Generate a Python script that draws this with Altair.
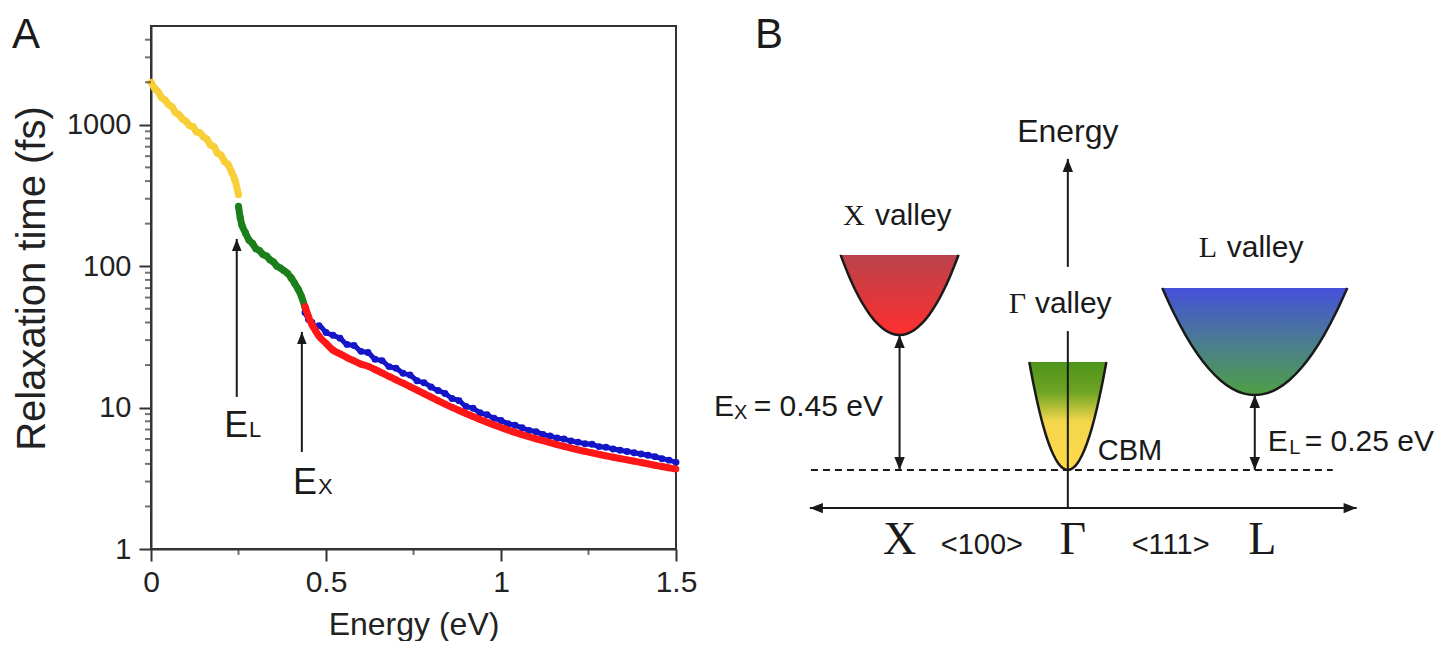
import altair as alt
import pandas as pd

FONT = "Liberation Sans"
SERIF = "Liberation Serif"
INK = "#1a1a1a"

# ---------------- Panel A data ----------------
yellow_E = [0.00, 0.01, 0.02, 0.03, 0.04, 0.05, 0.06, 0.07, 0.08, 0.09, 0.10, 0.11, 0.12,
            0.13, 0.14, 0.15, 0.16, 0.17, 0.18, 0.19, 0.20, 0.21, 0.22, 0.23, 0.24, 0.25]
yellow_tau = [2000, 1820, 1720, 1560, 1500, 1390, 1340, 1220, 1180, 1100, 1060, 990, 970,
              890, 880, 820, 790, 720, 700, 630, 610, 550, 525, 465, 405, 320]

green_E = [0.25, 0.255, 0.26, 0.27, 0.28, 0.29, 0.30, 0.31, 0.32, 0.33, 0.34, 0.35, 0.36,
           0.37, 0.38, 0.39, 0.40, 0.41, 0.42, 0.43, 0.44]
green_tau = [265, 220, 195, 172, 153, 145, 133, 129, 121, 118, 111, 107, 100,
             97, 93, 89, 83, 76, 69, 61, 51]

hot_E = [0.44, 0.45, 0.46, 0.47, 0.48, 0.50, 0.52, 0.54, 0.56, 0.58, 0.60, 0.62, 0.64,
         0.66, 0.68, 0.70, 0.72, 0.74, 0.76, 0.78, 0.80, 0.82, 0.84, 0.86, 0.88, 0.90,
         0.92, 0.94, 0.96, 0.98, 1.00, 1.02, 1.04, 1.06, 1.08, 1.10, 1.12, 1.14, 1.16,
         1.18, 1.20, 1.22, 1.24, 1.26, 1.28, 1.30, 1.32, 1.34, 1.36, 1.38, 1.40, 1.42,
         1.44, 1.46, 1.48, 1.50]
red_tau = [52, 44, 38.5, 35, 32, 28.5, 25.5, 24, 22.6, 21.4, 20.3, 19.6, 18.6,
           17.6, 16.6, 15.7, 14.9, 14.1, 13.3, 12.55, 11.85, 11.2, 10.6, 10.05, 9.55, 9.08,
           8.65, 8.25, 7.88, 7.54, 7.23, 6.94, 6.68, 6.44, 6.22, 6.02, 5.83, 5.65, 5.48,
           5.32, 5.17, 5.03, 4.9, 4.78, 4.67, 4.56, 4.46, 4.36, 4.27, 4.18, 4.09, 4.0,
           3.91, 3.83, 3.75, 3.68]
blue_tau = [47, 42, 40, 37, 38, 34, 32.5, 31, 28, 27.5, 25, 24.5, 22,
            21.5, 19.5, 19, 17.5, 17, 15.5, 15, 14, 13.2, 12.6, 11.6, 11.2, 10.2,
            9.9, 9.2, 8.9, 8.4, 8.1, 7.7, 7.5, 7.2, 6.9, 6.75, 6.45, 6.3, 6.1,
            6.0, 5.8, 5.7, 5.55, 5.5, 5.3, 5.25, 5.1, 5.0, 4.9, 4.8, 4.7, 4.6,
            4.5, 4.35, 4.25, 4.1]

x_major = [0, 0.5, 1, 1.5]
x_minor = [0.25, 0.75, 1.25]
y_major = [1, 10, 100, 1000]
y_minor = [2, 3, 4, 5, 6, 7, 8, 9, 20, 30, 40, 50, 60, 70, 80, 90,
           200, 300, 400, 500, 600, 700, 800, 900, 2000, 3000, 4000]

arrow_E = [0.245, 0.431]
arrow_tail = [11.9, 4.85]
arrow_tip = [156, 34.3]

labelA_text = ["E", "L", "E", "X"]
labelA_E = [0.209, 0.28, 0.406, 0.477]
labelA_tau = [6.2, 6.2, 2.45, 2.45]
labelA_size = [36, 22, 36, 22]

# ---------------- Panel B data (schematic) ----------------
valley_name = ["X", "Γ", "L"]
valley_k = [-0.9, 0.0, 1.0]
valley_min = [0.45, 0.0, 0.25]
valley_top = [0.717, 0.36, 0.607]
valley_halfwidth = [0.3155, 0.206, 0.495]
profile_u = [-1.0, -0.875, -0.75, -0.625, -0.5, -0.375, -0.25, -0.125, 0.0,
             0.125, 0.25, 0.375, 0.5, 0.625, 0.75, 0.875, 1.0]
profile_depth = [1.0, 0.7656, 0.5625, 0.3906, 0.25, 0.1406, 0.0625, 0.0156, 0.0,
                 0.0156, 0.0625, 0.1406, 0.25, 0.3906, 0.5625, 0.7656, 1.0]

vrule_k = [0.0, 0.0, -0.9, 1.0]
vrule_E = [0.677, -0.127, 0.0, 0.0]
vrule_E2 = [1.037, 0.463, 0.45, 0.25]
axis_E = [-0.127]
axis_k = [-1.38]
axis_k2 = [1.545]
dash_E = [0.0]
dash_k = [-1.374]
dash_k2 = [1.417]
head_up_k = [0.0, -0.9, 1.0]
head_up_E = [1.037, 0.45, 0.25]
head_down_k = [-0.9, 1.0]
head_down_E = [0.0, 0.0]
head_left_k = [-1.38]
head_right_k = [1.545]
head_h_E = [-0.127]

sans_left_text = ["valley", "valley", "valley", "E", "X", "= 0.45 eV", "E", "L", "= 0.25 eV", "CBM"]
sans_left_k = [-1.032, -0.176, 0.850, -1.893, -1.785, -1.68, 1.07, 1.185, 1.267, 0.16]
sans_left_E = [0.817, 0.523, 0.71, 0.18, 0.17, 0.18, 0.063, 0.053, 0.063, 0.033]
sans_left_size = [30, 30, 30, 30, 20, 30, 30, 20, 30, 29]

sans_center_text = ["Energy", "<100>", "<111>"]
sans_center_k = [0.0, -0.46, 0.55]
sans_center_E = [1.093, -0.28, -0.28]
sans_center_size = [32, 29, 29]

serif_left_text = ["X", "Γ", "L"]
serif_left_k = [-1.203, -0.316, 0.70]
serif_left_E = [0.817, 0.523, 0.71]
serif_center_text = ["X", "Γ", "L"]
serif_center_k = [-0.9, 0.027, 1.04]
serif_center_E = [-0.28, -0.28, -0.28]

# ================= Panel A =================
xs = alt.Scale(domain=[0, 1.5], nice=False, zero=False)
ys = alt.Scale(type="log", domain=[1, 5000], nice=False)

x_axis = alt.Axis(values=x_major, format="~g", labelFontSize=30, labelFont=FONT,
                  labelColor="#222222", labelPadding=6, labelFlush=False, tickSize=12,
                  tickWidth=2, tickColor="#333333", domainColor="#333333", domainWidth=2,
                  grid=False, title="Energy (eV)", titleFont=FONT, titleFontSize=32,
                  titleFontWeight="normal", titleColor="#222222", titleY=85,
                  titleBaseline="alphabetic")
y_axis = alt.Axis(values=y_major, format="d", labelFontSize=29, labelFont=FONT,
                  labelColor="#222222", labelPadding=8, tickSize=12, tickWidth=2,
                  tickColor="#333333", domainColor="#333333", domainWidth=2, grid=False,
                  title="Relaxation time (fs)", titleFont=FONT, titleFontSize=40,
                  titleFontWeight="normal", titleColor="#222222", titleAngle=270,
                  titleX=-119, titleY=252, titleAlign="center", titleBaseline="middle")

yellow_df = pd.DataFrame({"E": yellow_E, "tau": yellow_tau})
green_df = pd.DataFrame({"E": green_E, "tau": green_tau})
red_df = pd.DataFrame({"E": hot_E, "tau": red_tau})
blue_df = pd.DataFrame({"E": hot_E, "tau": blue_tau})

X0 = alt.X("E:Q", scale=xs, axis=x_axis, title="Energy (eV)")
Y0 = alt.Y("tau:Q", scale=ys, axis=y_axis, title="Relaxation time (fs)")


def band(df, color, width, size):
    line = alt.Chart(df).mark_line(color=color, strokeWidth=width, interpolate="monotone").encode(x=X0, y=Y0)
    pts = alt.Chart(df).mark_circle(color=color, size=size, opacity=1).encode(x=X0, y=Y0)
    return [line, pts]


y_minor_df = pd.DataFrame({"tau": y_minor})
x_minor_df = pd.DataFrame({"E": x_minor})
y_minor_layer = alt.Chart(y_minor_df).mark_tick(orient="horizontal", size=6, thickness=2,
                                                 color="#333333").encode(
    y=Y0, x=alt.value(-3))
x_minor_layer = alt.Chart(x_minor_df).mark_tick(orient="vertical", size=6, thickness=2,
                                                 color="#333333").encode(
    x=X0, y=alt.value(526))

arrowA_df = pd.DataFrame({"E": arrow_E, "tau": arrow_tail, "tip": arrow_tip})
UP = "M0,0L0.8,2L-0.8,2Z"
DOWN = "M0,0L0.8,-2L-0.8,-2Z"
LEFT = "M0,0L2,-0.8L2,0.8Z"
RIGHT = "M0,0L-2,-0.8L-2,0.8Z"

arrowA_shaft = alt.Chart(arrowA_df).mark_rule(color=INK, strokeWidth=2).encode(
    x=X0, y=Y0, y2="tip:Q")
arrowA_head = alt.Chart(arrowA_df).mark_point(shape=UP, filled=True, size=144, color=INK,
                                              opacity=1, strokeWidth=0).encode(
    x=X0, y=alt.Y("tip:Q", scale=ys, axis=y_axis, title="Relaxation time (fs)"))

labA_df = pd.DataFrame({"t": labelA_text, "E": labelA_E, "tau": labelA_tau, "s": labelA_size})
labA = alt.Chart(labA_df).mark_text(align="left", baseline="alphabetic", font=FONT,
                                    color=INK).encode(
    x=X0, y=Y0, text="t:N", size=alt.Size("s:Q", scale=None))

tagA = alt.Chart(pd.DataFrame({"t": ["A"]})).mark_text(
    align="left", baseline="top", font=FONT, fontSize=42, color=INK).encode(
    text="t:N", x=alt.value(-139), y=alt.value(-11))

panelA = alt.layer(
    *band(yellow_df, "#F8CF38", 7, 50),
    *band(green_df, "#1B7F1B", 7, 50),
    *band(blue_df, "#1414C8", 5, 48),
    *band(red_df, "#FF1717", 7, 44),
    y_minor_layer, x_minor_layer, arrowA_shaft, arrowA_head, labA, tagA,
).properties(width=525, height=523,
             view=alt.ViewBackground(stroke="#333333", strokeWidth=2))

# ================= Panel B =================
ks = alt.Scale(domain=[-1.93, 1.98], nice=False, zero=False)
es = alt.Scale(domain=[-0.44, 1.48], nice=False, zero=False)
KX = alt.X("k:Q", scale=ks, axis=None)
EY = alt.Y("E:Q", scale=es, axis=None)

rows = []
for name, kc, emin, etop, hw in zip(valley_name, valley_k, valley_min, valley_top, valley_halfwidth):
    for u, d in zip(profile_u, profile_depth):
        rows.append({"v": name, "k": kc + u * hw, "E": emin + d * (etop - emin), "Etop": etop})
valley_df = pd.DataFrame(rows)


def grad(stops):
    return alt.Gradient(gradient="linear", x1=0, x2=0, y1=0, y2=1,
                        stops=[alt.GradientStop(color=c, offset=o) for o, c in stops])


grads = {
    "X": grad([(0, "#B9424A"), (1, "#FF2F2F")]),
    "Γ": grad([(0, "#4E941C"), (0.28, "#6FA423"), (0.55, "#F3D64C"), (1, "#FFD94A")]),
    "L": grad([(0, "#4650DA"), (0.5, "#4A7C92"), (1, "#4FA044")]),
}

areas = []
for name in valley_name:
    areas.append(
        alt.Chart(valley_df[valley_df["v"] == name]).mark_area(
            color=grads[name], interpolate="monotone").encode(x=KX, y=EY, y2="Etop:Q"))

curves = alt.Chart(valley_df).mark_line(color=INK, strokeWidth=2.5, interpolate="monotone").encode(
    x=KX, y=EY, detail="v:N")

vr_df = pd.DataFrame({"k": vrule_k, "E": vrule_E, "E2": vrule_E2})
vrules = alt.Chart(vr_df).mark_rule(color=INK, strokeWidth=2).encode(x=KX, y=EY, y2="E2:Q")
ax_df = pd.DataFrame({"k": axis_k, "k2": axis_k2, "E": axis_E})
axrule = alt.Chart(ax_df).mark_rule(color=INK, strokeWidth=2).encode(x=KX, x2="k2:Q", y=EY)
dash_df = pd.DataFrame({"k": dash_k, "k2": dash_k2, "E": dash_E})
dashrule = alt.Chart(dash_df).mark_rule(color=INK, strokeWidth=2, strokeDash=[7, 5]).encode(
    x=KX, x2="k2:Q", y=EY)


def heads(k, E, shape):
    return alt.Chart(pd.DataFrame({"k": k, "E": E})).mark_point(
        shape=shape, filled=True, size=170, color=INK, opacity=1, strokeWidth=0).encode(x=KX, y=EY)


hd = [heads(head_up_k, head_up_E, UP), heads(head_down_k, head_down_E, DOWN),
      heads(head_left_k, head_h_E, LEFT), heads(head_right_k, head_h_E, RIGHT)]

sl_df = pd.DataFrame({"t": sans_left_text, "k": sans_left_k, "E": sans_left_E, "s": sans_left_size})
sc_df = pd.DataFrame({"t": sans_center_text, "k": sans_center_k, "E": sans_center_E, "s": sans_center_size})
fl_df = pd.DataFrame({"t": serif_left_text, "k": serif_left_k, "E": serif_left_E})
fc_df = pd.DataFrame({"t": serif_center_text, "k": serif_center_k, "E": serif_center_E})

t_sl = alt.Chart(sl_df).mark_text(align="left", baseline="alphabetic", font=FONT, color=INK).encode(
    x=KX, y=EY, text="t:N", size=alt.Size("s:Q", scale=None))
t_sc = alt.Chart(sc_df).mark_text(align="center", baseline="alphabetic", font=FONT, color=INK).encode(
    x=KX, y=EY, text="t:N", size=alt.Size("s:Q", scale=None))
t_fl = alt.Chart(fl_df).mark_text(align="left", baseline="alphabetic", font=SERIF, fontSize=30,
                                  color=INK).encode(x=KX, y=EY, text="t:N")
t_fc = alt.Chart(fc_df).mark_text(align="center", baseline="alphabetic", font=SERIF, fontSize=46,
                                  color=INK).encode(x=KX, y=EY, text="t:N")

tagB = alt.Chart(pd.DataFrame({"t": ["B"]})).mark_text(
    align="left", baseline="top", font=FONT, fontSize=42, color=INK).encode(
    text="t:N", x=alt.value(48), y=alt.value(-11))

panelB = alt.layer(
    *areas, curves, dashrule, axrule, vrules, *hd, t_sl, t_sc, t_fl, t_fc, tagB
).properties(width=731, height=576, view=alt.ViewBackground(strokeOpacity=0))

chart = alt.hconcat(panelA, panelB, spacing=9,
                    padding={"left": 3, "top": 5, "right": 0, "bottom": 0}).configure(font=FONT)

chart.save("out.html", embed_options={"renderer": "svg", "actions": False})
